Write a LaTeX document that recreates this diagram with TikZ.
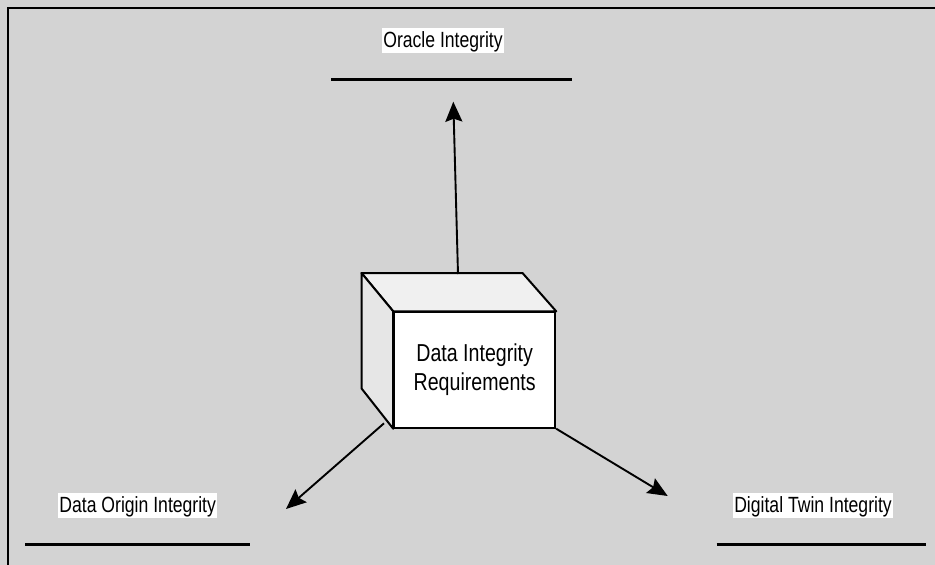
\documentclass[tikz,border=0pt]{standalone}
\usepackage{fontspec}
\setmainfont[FakeStretch=0.8]{Liberation Sans}
\usetikzlibrary{arrows.meta}
\definecolor{bg}{HTML}{D3D3D3}
\definecolor{topface}{HTML}{F0F0F0}
\definecolor{sideface}{HTML}{E6E6E6}
\begin{document}
\begin{tikzpicture}[x=1pt,y=-1pt,
  lbl/.style={fill=white, inner xsep=1.2pt, inner ysep=2pt, text height=17pt, text depth=4pt,
    font=\fontsize{22}{26}\selectfont},
  rulebar/.style={line width=2.8pt},
  conn/.style={line width=1.9pt, -{Stealth[length=20pt,width=17pt,inset=3pt]}},
  cubeedge/.style={line width=2pt, line join=round}]
\fill[bg] (0,0) rectangle (935,565);
\useasboundingbox (0,0) rectangle (935,565);
\draw[line width=2.7pt] (8,565) -- (8,8) -- (935,8);
% labels
\node[lbl] (oracle) at (443,40.8) {Oracle Integrity};
\node[lbl] (origin) at (137.7,505.8) {Data Origin Integrity};
\node[lbl] (twin) at (813,505.8) {Digital Twin Integrity};
\draw[rulebar] (331,79.3) -- (571.5,79.3);
\draw[rulebar] (25,544.3) -- (250,544.3);
\draw[rulebar] (716.7,544.3) -- (925.7,544.3);
% cube
\node[draw, line width=2pt, fill=white, minimum width=161pt, minimum height=115.4pt, inner sep=0pt,
  align=center, font=\fontsize{24.5}{29}\selectfont] (cube) at (474.7,370) {Data Integrity\\Requirements};
\filldraw[cubeedge, fill=topface] (cube.north west) -- ++(-31.7,-38.3) -- ++(161,0) -- (cube.north east) -- cycle;
\filldraw[cubeedge, fill=sideface] (cube.north west) -- ++(-31.7,-38.3) -- ++(0,115.4) -- (cube.south west) -- cycle;
\coordinate (upstart) at (458,274);
\coordinate (leftstart) at (384,423.3);
\coordinate (uptip) at (453.3,101.7);
\coordinate (lefttip) at (286,509);
\coordinate (righttip) at (667.7,496);
\draw[conn] (upstart) -- (uptip);
\draw[conn] (leftstart) -- (lefttip);
\draw[conn] (cube.south east) -- (righttip);
\end{tikzpicture}
\end{document}
